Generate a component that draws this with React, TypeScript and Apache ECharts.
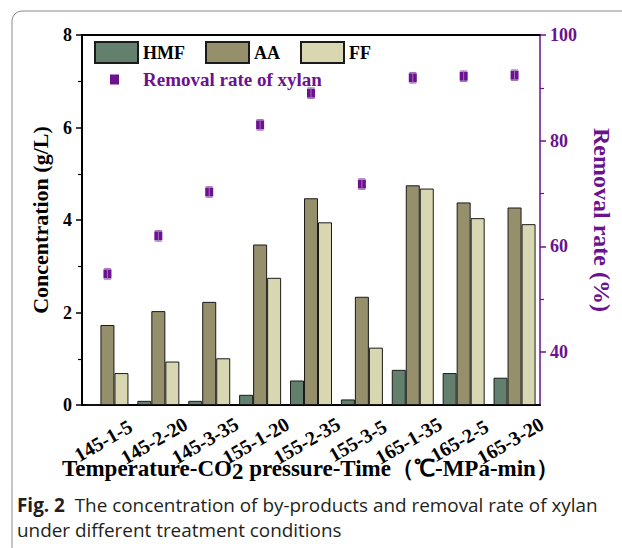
import React, { useEffect, useRef } from 'react';
import * as echarts from 'echarts';

const categories = ['145-1-5', '145-2-20', '145-3-35', '155-1-20', '155-2-35', '155-3-5', '165-1-35', '165-2-5', '165-3-20'];
const hmf = [0, 0.09, 0.09, 0.22, 0.53, 0.12, 0.76, 0.69, 0.59];
const aa = [1.73, 2.03, 2.23, 3.47, 4.47, 2.34, 4.75, 4.38, 4.27];
const ff = [0.69, 0.94, 1.01, 2.75, 3.95, 1.24, 4.68, 4.04, 3.91];
const removal = [54.8, 62.0, 70.3, 83.0, 89.0, 71.8, 91.9, 92.2, 92.4];
const removalErr = [1.0, 1.0, 1.0, 1.0, 1.0, 1.0, 1.0, 1.0, 1.0];
const rightMajorTicks = [40, 60, 80, 100];
const rightMinorTicks = [50, 70, 90];

const SERIF = '"Liberation Serif", "Times New Roman", serif';
const SANS = '"Open Sans", "Noto Sans", sans-serif';
const PURPLE = '#6c1190';
const HMF_C = '#63806e';
const AA_C = '#968f6c';
const FF_C = '#d9d7b1';

export default function App() {
  const ref = useRef<HTMLDivElement>(null);
  useEffect(() => {
    if (!ref.current) return;
    const chart = echarts.init(ref.current, null, { renderer: 'svg' });
    const barItem = (c: string) => ({ color: c, borderColor: '#1a1a1a', borderWidth: 1 });
    const legendText = { fontFamily: SERIF, fontWeight: 'bold', fontSize: 18, color: '#000' };
    const errData = removal.map((v, i) => [i, v - removalErr[i], v + removalErr[i]]);
    chart.setOption({
      animation: false,
      backgroundColor: '#fff',
      grid: { left: 82, right: 80, top: 35, bottom: 143, containLabel: false },
      legend: [
        { data: [{ name: 'HMF', icon: 'rect' }], left: 94, top: 41, padding: 0, itemWidth: 43, itemHeight: 21, textStyle: legendText },
        { data: [{ name: 'AA', icon: 'rect' }], left: 205, top: 41, padding: 0, itemWidth: 43, itemHeight: 21, textStyle: legendText },
        { data: [{ name: 'FF', icon: 'rect' }], left: 300, top: 41, padding: 0, itemWidth: 43, itemHeight: 21, textStyle: legendText },
        {
          data: [{ name: 'Removal rate of xylan', icon: 'rect' }], left: 110, top: 70, padding: 0, itemWidth: 9, itemHeight: 10,
          formatter: (name: string) => `{g|}{t|${name}}`,
          textStyle: {
            fontFamily: SERIF, fontWeight: 'bold', fontSize: 19, color: PURPLE,
            rich: {
              g: { width: 19, fontSize: 19 },
              t: { fontFamily: SERIF, fontWeight: 'bold', fontSize: 19, color: PURPLE },
            },
          },
        },
      ],
      xAxis: [
        {
          type: 'category', data: categories, position: 'bottom',
          axisLine: { lineStyle: { color: '#000', width: 2 } },
          axisTick: { alignWithLabel: true, length: 5, lineStyle: { color: '#000', width: 1.5 } },
          axisLabel: {
            rotate: 30, align: 'center', margin: 33, interval: 0,
            formatter: (v: string) => `{v|${v}}{s| }`,
            rich: {
              v: { fontFamily: SERIF, fontWeight: 'bold', fontSize: 20, color: '#000' },
              s: { width: 10, fontSize: 20 },
            },
          },
        },
        {
          type: 'category', data: categories, position: 'top',
          axisLine: { lineStyle: { color: '#000', width: 2 } },
          axisTick: { show: false }, axisLabel: { show: false },
        },
      ],
      yAxis: [
        {
          type: 'value', min: 0, max: 8, interval: 2, position: 'left',
          name: 'Concentration (g/L)', nameLocation: 'middle', nameGap: 31, nameRotate: 90,
          nameTextStyle: { fontFamily: SERIF, fontWeight: 'bold', fontSize: 22, color: '#000' },
          axisLine: { show: true, lineStyle: { color: '#000', width: 2 } },
          axisTick: { show: true, length: 6, lineStyle: { color: '#000', width: 1.5 } },
          minorTick: { show: true, splitNumber: 2, length: 4, lineStyle: { color: '#000', width: 1.2 } },
          axisLabel: { margin: 10, fontFamily: SERIF, fontWeight: 'bold', fontSize: 18, color: '#000' },
          splitLine: { show: false },
        },
        {
          type: 'value', min: 30, max: 100, interval: 10, position: 'right',
          name: 'Removal rate (%)', nameLocation: 'middle', nameGap: 50, nameRotate: -90,
          nameTextStyle: { fontFamily: SERIF, fontWeight: 'bold', fontSize: 24, color: PURPLE },
          axisLine: { show: true, lineStyle: { color: PURPLE, width: 1.5 } },
          axisTick: { show: true, length: 6, customValues: rightMajorTicks, lineStyle: { color: PURPLE, width: 1.5 } },
          axisLabel: { margin: 10, customValues: rightMajorTicks, fontFamily: SERIF, fontWeight: 'bold', fontSize: 18, color: PURPLE },
          splitLine: { show: false },
        },
        {
          type: 'value', min: 30, max: 100, interval: 10, position: 'right',
          axisLine: { show: false },
          axisTick: { show: true, length: 4, customValues: rightMinorTicks, lineStyle: { color: PURPLE, width: 1.2 } },
          axisLabel: { show: false },
          splitLine: { show: false },
        },
      ],
      series: [
        { name: 'HMF', type: 'bar', data: hmf, barWidth: 14, barGap: '0%', itemStyle: barItem(HMF_C) },
        { name: 'AA', type: 'bar', data: aa, barWidth: 14, barGap: '0%', itemStyle: barItem(AA_C) },
        { name: 'FF', type: 'bar', data: ff, barWidth: 14, barGap: '0%', itemStyle: barItem(FF_C) },
        {
          name: 'Removal rate of xylan', type: 'scatter', yAxisIndex: 1, data: removal,
          symbol: 'rect', symbolSize: [8, 9], itemStyle: { color: PURPLE, opacity: 1 }, z: 5,
        },
        {
          name: 'err', type: 'custom', yAxisIndex: 1, data: errData, z: 6, silent: true,
          renderItem: (_p: any, api: any) => {
            const lo = api.coord([api.value(0), api.value(1)]);
            const hi = api.coord([api.value(0), api.value(2)]);
            const st = { stroke: '#a070b8', lineWidth: 1 };
            return {
              type: 'group',
              children: [
                { type: 'line', shape: { x1: lo[0], y1: lo[1], x2: hi[0], y2: hi[1] }, style: st },
                { type: 'line', shape: { x1: lo[0] - 3.5, y1: lo[1], x2: lo[0] + 3.5, y2: lo[1] }, style: st },
                { type: 'line', shape: { x1: hi[0] - 3.5, y1: hi[1], x2: hi[0] + 3.5, y2: hi[1] }, style: st },
              ],
            };
          },
        },
      ],
      graphic: [
        {
          type: 'rect', shape: { x: 12, y: 11, width: 700, height: 700, r: [10, 0, 0, 0] },
          style: { fill: 'none', stroke: '#8a8a8a', lineWidth: 1 }, silent: true,
        },
        {
          type: 'text', left: 62, top: 457,
          style: {
            text: 'Temperature-CO{sub|2} pressure-Time（℃-MPa-min）',
            fontFamily: SERIF, fontWeight: 'bold', fontSize: 23, fill: '#000',
            rich: { sub: { fontFamily: SERIF, fontWeight: 'bold', fontSize: 23, padding: [5, 0, 0, 0] } },
          },
        },
        {
          type: 'text', left: 17, top: 495,
          style: {
            text: '{b|Fig. 2}  The concentration of by-products and removal rate of xylan',
            fontFamily: SANS, fontSize: 18.9, fill: '#231f20',
            rich: { b: { fontFamily: SANS, fontWeight: 'bold', fontSize: 18.9, fill: '#231f20' } },
          },
        },
        {
          type: 'text', left: 17, top: 520,
          style: {
            text: 'under different treatment conditions',
            fontFamily: SANS, fontSize: 18.9, fill: '#231f20',
          },
        },
      ],
    });
    return () => chart.dispose();
  }, []);
  return (
    <div
      ref={ref}
      style={{ position: 'fixed', left: 0, top: 0, width: 622, height: 548, background: '#fff' }}
    />
  );
}
